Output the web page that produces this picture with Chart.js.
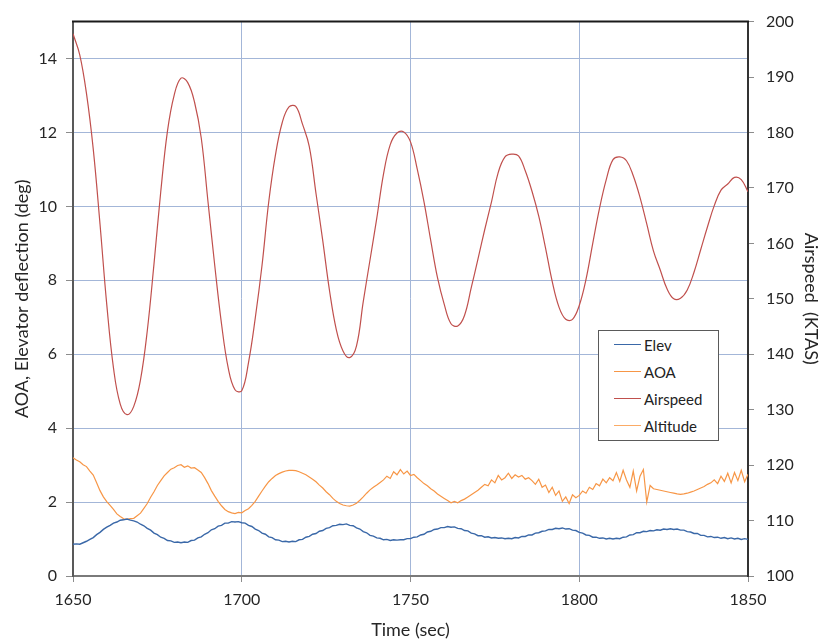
<!DOCTYPE html>
<html>
<head>
<meta charset="utf-8">
<title>Elevator, AOA and airspeed</title>
<script src="https://cdn.jsdelivr.net/npm/chart.js"></script>
<style>
    body { margin: 0; background: #fff; font-family: Lato, sans-serif; }
    .wrap { position: relative; width: 822px; height: 644px; }
    #legend {
        position: absolute; left: 598px; top: 330px; width: 121px; height: 111px;
        box-sizing: border-box; border: 1.5px solid #5a5a5a; background: #fff;
    }
    .item { display: flex; align-items: center; height: 27px; font-size: 15px; color: #222; }
    .swatch { width: 27px; height: 0; border-top: 1.5px solid; margin-left: 15px; margin-right: 3px; }
</style>
</head>
<body>
<div class="wrap">
    <canvas id="chart" width="822" height="644"></canvas>
    <div id="legend"></div>
</div>
<script>
// sample times (sec)
const timeFine = [
    1650,1651,1652,1653,1654,1655,1656,1657,1658,1659,
    1660,1661,1662,1663,1664,1665,1666,1667,1668,1669,
    1670,1671,1672,1673,1674,1675,1676,1677,1678,1679,
    1680,1681,1682,1683,1684,1685,1686,1687,1688,1689,
    1690,1691,1692,1693,1694,1695,1696,1697,1698,1699,
    1700,1701,1702,1703,1704,1705,1706,1707,1708,1709,
    1710,1711,1712,1713,1714,1715,1716,1717,1718,1719,
    1720,1721,1722,1723,1724,1725,1726,1727,1728,1729,
    1730,1731,1732,1733,1734,1735,1736,1737,1738,1739,
    1740,1741,1742,1743,1744,1745,1746,1747,1748,1749,
    1750,1751,1752,1753,1754,1755,1756,1757,1758,1759,
    1760,1761,1762,1763,1764,1765,1766,1767,1768,1769,
    1770,1771,1772,1773,1774,1775,1776,1777,1778,1779,
    1780,1781,1782,1783,1784,1785,1786,1787,1788,1789,
    1790,1791,1792,1793,1794,1795,1796,1797,1798,1799,
    1800,1801,1802,1803,1804,1805,1806,1807,1808,1809,
    1810,1811,1812,1813,1814,1815,1816,1817,1818,1819,
    1820,1821,1822,1823,1824,1825,1826,1827,1828,1829,
    1830,1831,1832,1833,1834,1835,1836,1837,1838,1839,
    1840,1841,1842,1843,1844,1845,1846,1847,1848,1849,
    1850
];
const timeCoarse = [
    1650,1652,1654,1656,1658,1660,1662,1664,1666,1668,
    1670,1672,1674,1676,1678,1680,1682,1684,1686,1688,
    1690,1692,1694,1696,1698,1700,1702,1704,1706,1708,
    1710,1712,1714,1716,1718,1720,1722,1724,1726,1728,
    1730,1732,1734,1736,1738,1740,1742,1744,1746,1748,
    1750,1752,1754,1756,1758,1760,1762,1764,1766,1768,
    1770,1772,1774,1776,1778,1780,1782,1784,1786,1788,
    1790,1792,1794,1796,1798,1800,1802,1804,1806,1808,
    1810,1812,1814,1816,1818,1820,1822,1824,1826,1828,
    1830,1832,1834,1836,1838,1840,1842,1844,1846,1848,
    1850
];

// elevator deflection (deg), on timeFine
const elev = [
    0.86,0.87,0.86,0.90,0.94,0.99,1.04,1.12,1.18,1.26,
    1.32,1.37,1.43,1.46,1.51,1.52,1.54,1.51,1.49,1.46,
    1.40,1.36,1.29,1.24,1.16,1.12,1.05,1.02,0.96,0.95,
    0.91,0.92,0.90,0.92,0.91,0.96,0.97,1.03,1.06,1.13,
    1.17,1.25,1.28,1.35,1.37,1.43,1.43,1.47,1.46,1.47,
    1.44,1.43,1.37,1.34,1.27,1.23,1.16,1.13,1.06,1.04,
    0.98,0.97,0.93,0.94,0.92,0.94,0.93,0.98,0.99,1.05,
    1.07,1.13,1.15,1.21,1.23,1.29,1.31,1.36,1.37,1.40,
    1.39,1.41,1.37,1.36,1.30,1.27,1.20,1.17,1.10,1.08,
    1.03,1.02,0.98,0.99,0.96,0.98,0.97,0.98,0.98,1.01,
    1.01,1.05,1.06,1.11,1.13,1.19,1.21,1.26,1.27,1.31,
    1.31,1.34,1.32,1.33,1.29,1.28,1.23,1.22,1.16,1.14,
    1.09,1.09,1.05,1.06,1.03,1.04,1.02,1.03,1.01,1.02,
    1.01,1.04,1.03,1.07,1.07,1.11,1.11,1.16,1.17,1.21,
    1.22,1.26,1.26,1.29,1.28,1.30,1.27,1.28,1.24,1.23,
    1.18,1.16,1.11,1.10,1.05,1.05,1.02,1.03,1.00,1.02,
    1.00,1.02,1.01,1.05,1.06,1.11,1.12,1.17,1.17,1.21,
    1.20,1.23,1.22,1.25,1.24,1.27,1.26,1.28,1.26,1.27,
    1.24,1.24,1.20,1.19,1.15,1.15,1.10,1.10,1.06,1.07,
    1.04,1.05,1.02,1.04,1.01,1.03,1.00,1.02,0.99,1.01,
    0.99
];

// angle of attack (deg), on timeFine
const aoa = [
    3.20,3.14,3.09,3.01,2.96,2.84,2.73,2.52,2.31,2.14,
    2.01,1.91,1.80,1.68,1.61,1.55,1.53,1.55,1.56,1.63,
    1.70,1.83,1.96,2.13,2.28,2.45,2.58,2.71,2.80,2.89,
    2.93,2.99,3.01,2.94,2.98,2.92,2.93,2.87,2.80,2.66,
    2.50,2.31,2.16,2.02,1.90,1.80,1.74,1.71,1.69,1.72,
    1.71,1.77,1.82,1.91,2.02,2.16,2.30,2.43,2.55,2.64,
    2.72,2.77,2.81,2.84,2.86,2.86,2.85,2.82,2.78,2.74,
    2.68,2.62,2.55,2.46,2.38,2.28,2.20,2.10,2.02,1.96,
    1.92,1.90,1.89,1.92,1.97,2.05,2.14,2.24,2.33,2.40,
    2.46,2.53,2.60,2.70,2.64,2.82,2.74,2.88,2.76,2.84,
    2.72,2.75,2.66,2.58,2.50,2.44,2.36,2.30,2.22,2.16,
    2.10,2.04,1.98,2.02,1.98,2.04,2.08,2.14,2.20,2.26,
    2.32,2.40,2.48,2.44,2.60,2.52,2.72,2.60,2.66,2.78,
    2.64,2.74,2.68,2.72,2.62,2.66,2.58,2.48,2.62,2.40,
    2.46,2.26,2.40,2.18,2.30,2.02,2.14,1.96,2.20,2.12,
    2.18,2.30,2.24,2.40,2.34,2.50,2.44,2.62,2.52,2.66,
    2.58,2.80,2.56,2.86,2.60,2.40,2.84,2.30,2.70,2.88,
    2.00,2.45,2.36,2.34,2.32,2.30,2.28,2.26,2.24,2.22,
    2.21,2.22,2.24,2.27,2.30,2.34,2.38,2.42,2.48,2.52,
    2.60,2.50,2.70,2.56,2.78,2.52,2.80,2.58,2.86,2.55,
    2.75
];

// true airspeed (KTAS), on timeCoarse
const airspeed = [
    197.8,194.0,187.0,177.0,163.5,149.0,137.5,131.0,129.1,130.6,
    135.4,144.2,156.3,169.3,180.3,186.8,189.8,189.0,185.5,179.0,
    167.5,156.0,145.5,137.5,133.6,133.4,138.5,146.5,156.0,167.5,
    176.0,181.8,184.6,184.7,181.5,177.5,169.0,160.5,151.5,144.5,
    140.6,139.4,141.5,149.5,157.0,164.5,172.5,177.8,179.9,180.1,
    178.3,173.4,167.5,160.5,153.8,149.0,145.5,145.1,147.0,152.0,
    157.2,162.5,167.5,172.8,175.6,176.1,175.8,173.1,169.4,164.9,
    159.2,153.1,148.5,146.3,146.3,148.8,153.5,160.0,166.3,171.5,
    175.1,175.6,174.9,172.2,168.3,163.5,158.6,155.2,151.8,150.0,
    150.1,151.6,154.8,158.9,163.0,166.8,169.6,170.7,171.9,171.5,
    169.3
];

// recorded, but no points inside the plotted range
const altitude = [];

const gridBlue = '#a3b6d8';
const tickGray = '#8c8c8c';
const textColor = '#262626';

function pts(times, vals) {
    return vals.map((v, i) => ({ x: times[i], y: v }));
}

// black frame along the top of the plot area
const frameTop = {
    id: 'frameTop',
    afterDatasetsDraw(chart) {
        const { ctx, chartArea: a } = chart;
        ctx.save();
        ctx.strokeStyle = '#1a1a1a';
        ctx.lineWidth = 2;
        ctx.beginPath();
        ctx.moveTo(a.left - 1, a.top);
        ctx.lineTo(a.right + 1, a.top);
        ctx.stroke();
        ctx.restore();
    }
};

Chart.defaults.font.family = 'Lato, sans-serif';
Chart.defaults.color = textColor;

const chart = new Chart(document.getElementById('chart'), {
    type: 'line',
    data: {
        datasets: [
            { label: 'Elev', data: pts(timeFine, elev), borderColor: '#3a68a8', borderWidth: 1.4, yAxisID: 'y' },
            { label: 'AOA', data: pts(timeFine, aoa), borderColor: '#f79646', borderWidth: 1.2, yAxisID: 'y' },
            { label: 'Airspeed', data: pts(timeCoarse, airspeed), borderColor: '#c0504d', borderWidth: 1.2, tension: 0.4, yAxisID: 'y1' },
            { label: 'Altitude', data: altitude, borderColor: '#fbab66', borderWidth: 1.2, yAxisID: 'y' }
        ]
    },
    options: {
        responsive: false,
        animation: false,
        elements: { point: { radius: 0 }, line: { tension: 0 } },
        layout: { padding: { top: 16, left: 0, right: 0, bottom: 0 } },
        plugins: { legend: { display: false }, tooltip: { enabled: false } },
        scales: {
            x: {
                type: 'linear', min: 1650, max: 1850,
                ticks: { stepSize: 50, font: { size: 16 }, color: textColor, padding: 8, maxRotation: 0,
                         callback: v => String(v) },
                grid: { color: gridBlue, tickColor: tickGray, tickLength: 6 },
                border: { color: '#7a7a7a', width: 2 },
                title: { display: true, text: 'Time (sec)', font: { size: 18 }, color: textColor, padding: { top: 0, bottom: 3 } },
                afterFit: s => { s.height = 68; }
            },
            y: {
                position: 'left', min: 0, max: 15,
                ticks: { stepSize: 2, includeBounds: false, font: { size: 16 }, color: textColor, padding: 9 },
                grid: { color: gridBlue, tickColor: tickGray, tickLength: 7 },
                border: { color: '#595959', width: 2 },
                title: { display: true, text: 'AOA, Elevator deflection (deg)', font: { size: 18 }, color: textColor, padding: { top: 11, bottom: 0 } },
                afterFit: s => { s.width = 73; }
            },
            y1: {
                position: 'right', min: 100, max: 200,
                ticks: { stepSize: 10, font: { size: 16 }, color: textColor, padding: 12 },
                grid: { drawOnChartArea: false, tickColor: tickGray, tickLength: 6 },
                border: { color: '#333333', width: 2 },
                title: { display: true, text: 'Airspeed  (KTAS)', font: { size: 18 }, color: textColor, padding: { top: 0, bottom: 0 } },
                afterFit: s => { s.width = 74; }
            }
        }
    },
    plugins: [frameTop]
});

// legend box inside the plot
const legendDiv = document.getElementById('legend');
chart.data.datasets.forEach(ds => {
    const row = document.createElement('div');
    row.className = 'item';
    row.innerHTML = '<span class="swatch" style="border-color:' + ds.borderColor + '"></span>' + ds.label;
    legendDiv.appendChild(row);
});
</script>
</body>
</html>
